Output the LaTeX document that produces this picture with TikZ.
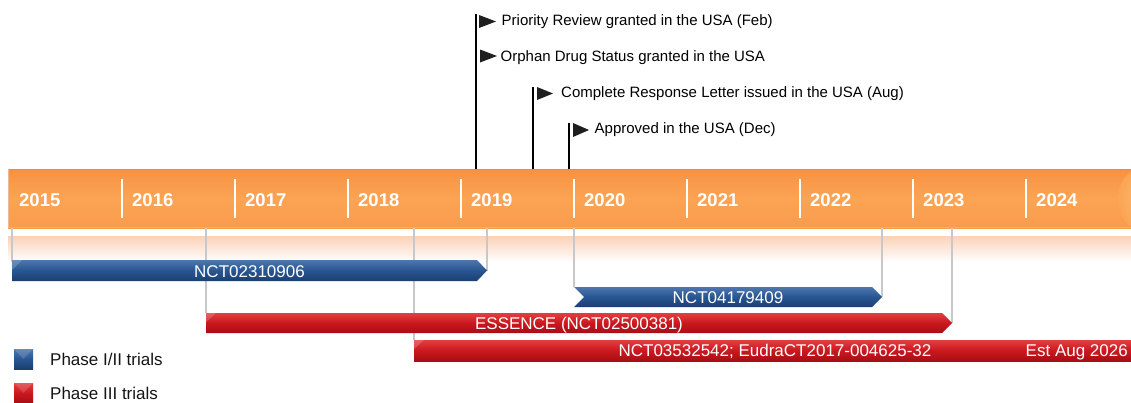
\documentclass[tikz,border=0pt]{standalone}
\usepackage{fontspec}
\setmainfont{Liberation Sans}
\definecolor{bandtop}{RGB}{246,146,66}
\definecolor{bandmid}{RGB}{251,164,84}
\definecolor{bandbot}{RGB}{249,156,76}
\definecolor{bandedge}{RGB}{226,140,80}
\definecolor{glowtop}{RGB}{251,210,184}
\definecolor{guidegray}{RGB}{200,200,200}
\definecolor{bluetop}{RGB}{78,118,172}
\definecolor{bluemid}{RGB}{40,86,146}
\definecolor{bluebot}{RGB}{28,62,112}
\definecolor{redtop}{RGB}{226,62,66}
\definecolor{redmid}{RGB}{202,24,30}
\definecolor{redbot}{RGB}{166,14,20}
\definecolor{legendtext}{RGB}{20,20,20}
\tikzset{
  yearlbl/.style={font=\fontsize{18.5}{20}\selectfont\bfseries, text=white, anchor=base west, inner sep=0pt},
  mstext/.style={font=\fontsize{15}{17}\selectfont, anchor=base west, inner sep=0pt, text=black},
  bartext/.style={font=\fontsize{17}{19}\selectfont, text=white, anchor=base, inner sep=0pt},
  legtext/.style={font=\fontsize{17}{19}\selectfont, anchor=base west, inner sep=0pt, text=legendtext},
  guide/.style={draw=guidegray, line width=1.5pt},
  pole/.style={draw=black, line width=2pt},
  divider/.style={draw=white, line width=2.2pt},
  flagtip/.style={fill=black!88},
  bluebar/.style={top color=bluetop, bottom color=bluebot, middle color=bluemid},
  redbar/.style={top color=redtop, bottom color=redbot, middle color=redmid},
}
\begin{document}
\begin{tikzpicture}[x=1pt,y=-1pt]
\useasboundingbox (0,0) rectangle (1131,402);

% ---- year band ----
\shade[top color=bandtop, bottom color=bandbot, middle color=bandmid] (8,169) rectangle (1131,228);
\begin{scope}
  \clip (8,169) rectangle (1131,228);
  \shade[inner color={rgb,255:red,253;green,184;blue,110}, outer color=bandmid] (1140,199) ellipse (22 and 30);
\end{scope}
\draw[bandedge, line width=1pt] (8,169.5) -- (1131,169.5);
\draw[bandedge!70, line width=0.8pt] (8,227.6) -- (1131,227.6);
\draw[bandedge!60, line width=0.6pt] (8.3,169) -- (8.3,228);
% soft glow under the band
\shade[top color=glowtop, bottom color=white] (8,236) rectangle (1131,262);

% year dividers and labels
\foreach \x in {122,235,348,461,574,687,800,913,1026}
  \draw[divider] (\x,179) -- (\x,218);
\node[yearlbl] (y2015) at (19,206) {2015};
\node[yearlbl] (y2016) at (132,206) {2016};
\node[yearlbl] (y2017) at (245,206) {2017};
\node[yearlbl] (y2018) at (358,206) {2018};
\node[yearlbl] (y2019) at (471,206) {2019};
\node[yearlbl] (y2020) at (584,206) {2020};
\node[yearlbl] (y2021) at (697,206) {2021};
\node[yearlbl] (y2022) at (810,206) {2022};
\node[yearlbl] (y2023) at (923,206) {2023};
\node[yearlbl] (y2024) at (1036,206) {2024};

% ---- anchor points for guide lines ----
\coordinate (gA) at (12,228);   \coordinate (bA) at (12,262);
\coordinate (gB) at (206,228);  \coordinate (bB) at (206,313);
\coordinate (gC) at (414,228);  \coordinate (bC) at (414,340);
\coordinate (gD) at (487,228);  \coordinate (bD) at (487,270.5);
\coordinate (gE) at (574,228);  \coordinate (bE) at (574,287);
\coordinate (gF) at (882,228);  \coordinate (bF) at (882,297);
\coordinate (gG) at (952,228);  \coordinate (bG) at (952,323);
\foreach \a in {A,B,C,D,E,F,G} \draw[guide] (g\a) -- (b\a);

% ---- trial bars ----
% NCT02310906
\shade[bluebar] (12,260) -- (477,260) -- (487,270.5) -- (477,281) -- (12,281) -- cycle;
\fill[white, opacity=0.18] (12,260) -- (22,260) -- (12,270) -- cycle;
\node[bartext] (t1) at (249.5,277) {NCT02310906};
% NCT04179409
\shade[bluebar] (574,287) -- (872,287) -- (882,297) -- (872,307) -- (574,307) -- (584,297) -- cycle;
\node[bartext] (t2) at (728,303) {NCT04179409};
% ESSENCE
\shade[redbar] (206,313) -- (942,313) -- (952,323) -- (942,333) -- (206,333) -- cycle;
\fill[white, opacity=0.18] (206,313) -- (216,313) -- (206,322) -- cycle;
\node[bartext] (t3) at (579,329.5) {ESSENCE (NCT02500381)};
% NCT03532542
\shade[redbar] (414,340) rectangle (1131,361);
\fill[white, opacity=0.18] (414,340) -- (424,340) -- (414,349) -- cycle;
\node[bartext] (t4) at (775,356.5) {NCT03532542; EudraCT2017-004625-32};
\node[bartext, anchor=base east] (t5) at (1128,356.5) {Est Aug 2026};

% ---- milestones ----
\coordinate (p1top) at (476,14);  \coordinate (p1bot) at (476,169);
\coordinate (p2top) at (533,87);  \coordinate (p2bot) at (533,169);
\coordinate (p3top) at (569,123); \coordinate (p3bot) at (569,169);
\draw[pole] (p1top) -- (p1bot);
\draw[pole] (p2top) -- (p2bot);
\draw[pole] (p3top) -- (p3bot);
\fill[flagtip] (479,15) -- (496,21.5) -- (479,28) -- cycle;
\fill[flagtip] (480,49.5) -- (497,56) -- (480,62.5) -- cycle;
\fill[flagtip] (537,87) -- (553,93.5) -- (537,100) -- cycle;
\fill[flagtip] (573,123) -- (589,130) -- (573,137) -- cycle;
\node[mstext] (m1) at (501.5,25) {Priority Review granted in the USA (Feb)};
\node[mstext] (m2) at (500.5,61) {Orphan Drug Status granted in the USA};
\node[mstext] (m3) at (561,97) {Complete Response Letter issued in the USA (Aug)};
\node[mstext] (m4) at (594.5,133) {Approved in the USA (Dec)};

% ---- legend ----
\shade[bluebar] (14,349) rectangle (33,369);
\fill[white, opacity=0.15] (14,349) -- (33,349) -- (23.5,359) -- cycle;
\shade[redbar] (14,383) rectangle (33,403);
\fill[white, opacity=0.15] (14,383) -- (33,383) -- (23.5,393) -- cycle;
\node[legtext] (l1) at (50,365) {Phase I/II trials};
\node[legtext] (l2) at (50,399) {Phase III trials};
\end{tikzpicture}
\end{document}
